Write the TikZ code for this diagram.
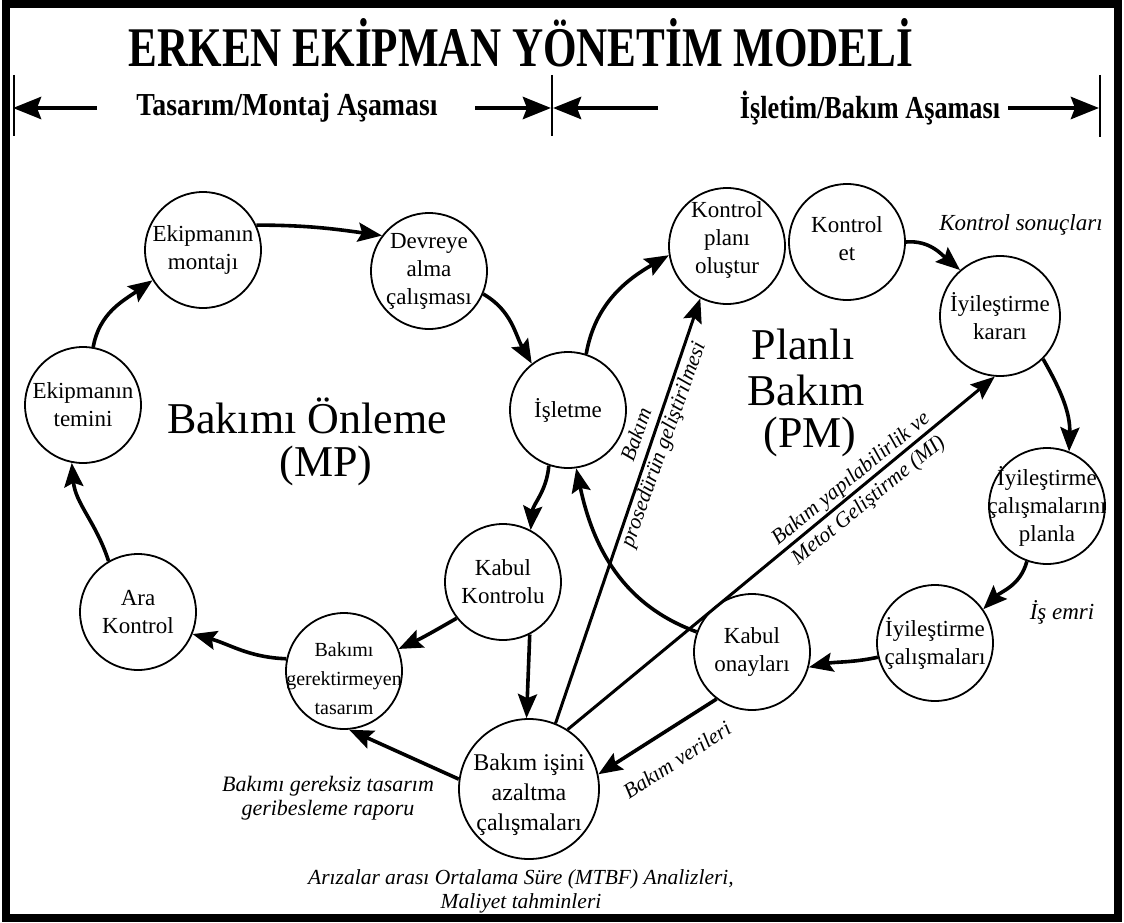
\documentclass[tikz,border=0pt]{standalone}
\usepackage{fontspec}
\setmainfont{Liberation Serif}
\usetikzlibrary{arrows.meta}
\begin{document}
\begin{tikzpicture}[x=1pt,y=1pt,
  bubble/.style={circle, draw, line width=1.8pt, inner sep=0pt, minimum size=116pt},
  ctext/.style={align=center, font=\fontsize{23}{28}\selectfont, inner sep=0pt},
  arr/.style={line width=3.6pt, -{Stealth[length=24pt,width=19pt,inset=4pt]}},
  harr/.style={line width=4.5pt, -{Stealth[length=28pt,width=22pt,inset=4pt]}},
  thin/.style={line width=1.2pt},
  lbl/.style={font=\fontsize{21.5}{25}\selectfont\itshape, align=center, inner sep=0pt},
  big/.style={font=\fontsize{44}{50}\selectfont, inner sep=0pt},
  head/.style={font=\fontsize{32}{38}\selectfont\bfseries, inner sep=0pt}]
\useasboundingbox (0,0) rectangle (1124,-923);
\fill[white] (0,0) rectangle (1124,-923);
\draw[line width=8pt] (6,-4) rectangle (1118,-918);

% title and phases
\node[font=\fontsize{56}{64}\selectfont\bfseries, inner sep=0pt] (title) at (521,-43) {\scalebox{0.77}[1]{ERKEN EKİPMAN YÖNETİM MODELİ}};
\node[head] (ph1) at (287,-108) {\scalebox{0.87}[1]{Tasarım/Montaj Aşaması}};
\node[head] (ph2) at (870,-108) {\scalebox{0.82}[1]{İşletim/Bakım Aşaması}};
\coordinate (v0a) at (14,-75);  \coordinate (v0b) at (14,-136);
\coordinate (v1a) at (552,-75); \coordinate (v1b) at (552,-136);
\coordinate (v2a) at (1100,-75); \coordinate (v2b) at (1100,-137);
\draw[thin] (v0a) -- (v0b);
\draw[thin] (v1a) -- (v1b);
\draw[thin] (v2a) -- (v2b);
\coordinate (h1s) at (97,-108); \coordinate (h1e) at (13,-108);
\coordinate (h2s) at (475,-108); \coordinate (h2e) at (551,-108);
\coordinate (h3s) at (658,-108); \coordinate (h3e) at (553,-108);
\coordinate (h4s) at (1008,-108); \coordinate (h4e) at (1099,-108);
\draw[harr] (h1s) -- (h1e);
\draw[harr] (h2s) -- (h2e);
\draw[harr] (h3s) -- (h3e);
\draw[harr] (h4s) -- (h4e);

% circles
\node[bubble] (temin) at (83,-405) {};
\node[ctext] (temin-t) at (temin) {Ekipmanın\\temini};
\node[bubble] (montaj) at (203,-250) {};
\node[ctext] (montaj-t) at (montaj) {Ekipmanın\\montajı};
\node[bubble] (devreye) at (429,-271) {};
\node[ctext] (devreye-t) at (devreye) {Devreye\\alma\\çalışması};
\node[bubble] (isletme) at (568,-410) {};
\node[ctext] (isletme-t) at (isletme) {İşletme};
\node[bubble] (ara) at (138,-612) {};
\node[ctext] (ara-t) at (ara) {Ara\\Kontrol};
\node[bubble] (bgt) at (344,-671) {};
\node[ctext, font=\fontsize{20}{29}\selectfont] (bgt-t) at (344,-679) {Bakımı\\gerektirmeyen\\tasarım};
\node[bubble] (kabulk) at (503,-582) {};
\node[ctext] (kabulk-t) at (kabulk) {Kabul\\Kontrolu};
\node[bubble, minimum size=140pt] (bia) at (529,-789) {};
\node[ctext, font=\fontsize{24}{30}\selectfont] (bia-t) at (529,-795) {Bakım işini\\azaltma\\çalışmaları};
\node[bubble] (kpo) at (727,-246) {};
\node[ctext] (kpo-t) at (727,-240) {Kontrol\\planı\\oluştur};
\node[bubble] (ket) at (847,-242) {};
\node[ctext] (ket-t) at (847,-239) {Kontrol\\et};
\node[bubble, minimum size=120pt] (ik) at (1000,-316) {};
\node[ctext] (ik-t) at (ik) {İyileştirme\\kararı};
\node[bubble] (icp) at (1047,-506) {};
\node[ctext] (icp-t) at (icp) {İyileştirme\\çalışmalarını\\planla};
\node[bubble] (ic) at (935,-643) {};
\node[ctext] (ic-t) at (ic) {İyileştirme\\çalışmaları};
\node[bubble] (ko) at (752,-652) {};
\node[ctext] (ko-t) at (ko) {Kabul\\onayları};

% big labels
\node[big] (mp1) at (307,-416) {Bakımı Önleme};
\node[big] (mp2) at (326,-466) {(MP)};
\node[big] (pm1) at (803,-344) {Planlı};
\node[big] (pm2) at (806,-390) {Bakım};
\node[big] (pm3) at (810,-437) {(PM)};

% connectors
\draw[arr] (temin.80) to[out=80,in=215] (montaj.211);
\draw[arr] (montaj.25) to[out=0,in=172] (devreye.143);
\draw[arr] (devreye.-23) to[out=-30,in=120] (isletme.128);
\draw[arr] (isletme.72) to[out=80,in=210] (kpo.189);
\draw[arr] (ket.0) to[out=5,in=140] (ik.131);
\draw[arr] (ik.-45) to[out=-60,in=88] (icp.68);
\draw[arr] (icp.250) to[out=-105,in=45] (ic.35);
\draw[arr] (ic.194) to[out=192,in=12] (ko.-15);
\draw[arr] (ko.233) -- (bia.12);
\draw[arr] (ko.160) to[out=160,in=-78] (isletme.-82);
\draw[arr] (kabulk.218) to[out=210,in=25] (bgt.22);
\draw[arr] (kabulk.-63) -- (bia.92);
\draw[arr] (bgt.168) to[out=178,in=-15] (ara.-22);
\draw[arr] (ara.120) to[out=108,in=-85] (temin.259);
\draw[arr] (bia.172) -- (bgt.-85);
\draw[arr, line width=3pt] (bia.68) -- (kpo.243);
\draw[arr, line width=3pt] (bia.57) -- (ik.265);
\draw[arr] (isletme.251) to[out=-95,in=85] (kabulk.62);

% labels
\node[lbl, rotate=70.3] (l1) at (651,-440) {Bakım\\[3pt]prosedürün geliştirilmesi};
\node[lbl, rotate=39.2] (l2) at (860,-490) {Bakım yapılabilirlik ve\\[3pt]Metot Geliştirme (MI)};
\node[lbl, rotate=33] (l3) at (677,-760) {Bakım verileri};
\node[lbl, font=\fontsize{23}{27}\selectfont\itshape] (l4) at (1021,-225) {Kontrol sonuçları};
\node[lbl, font=\fontsize{23}{27}\selectfont\itshape] (l5) at (1062,-612) {İş emri};
\node[lbl, font=\fontsize{22}{24}\selectfont\itshape] (l6) at (328,-798) {Bakımı gereksiz tasarım\\geribesleme raporu};
\node[lbl, font=\fontsize{21.5}{24}\selectfont\itshape] (l7) at (521,-891) {Arızalar arası Ortalama Süre (MTBF) Analizleri,\\Maliyet tahminleri};
\end{tikzpicture}
\end{document}
